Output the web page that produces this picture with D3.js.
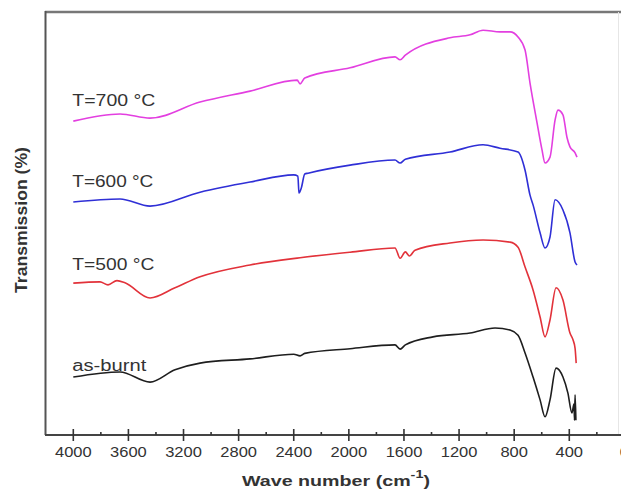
<!DOCTYPE html>
<html>
<head>
<meta charset="utf-8">
<script src="https://cdn.jsdelivr.net/npm/d3@7"></script>
<style>
  body { margin: 0; background: #fff; }
  text { font-family: Arial, "Liberation Sans", sans-serif; fill: #333; }
</style>
</head>
<body>
<div class="graph"></div>
<script>
// wave numbers (cm-1) and transmission (%, arbitrary offset)
var asBurntWave = [4000, 3661, 3443, 3262, 3080, 2717, 2400, 2354, 2320, 1991, 1665, 1628, 1590, 1389, 1120, 939, 830, 772, 721, 663, 612, 576, 540, 496, 446, 410, 381, 366, 362, 358, 352];
var asBurntT    = [13.7, 14.9, 12.5, 15.4, 17.0, 18.0, 19.1, 18.7, 19.3, 20.4, 21.3, 20.3, 21.3, 23.2, 24.1, 25.3, 24.8, 23.6, 19.4, 13.7, 8.3, 4.3, 8.3, 15.8, 13.7, 9.9, 5.2, 7.3, 3.5, 9.5, 3.5];

var t500Wave = [4000, 3806, 3748, 3683, 3625, 3443, 3262, 3080, 2717, 2354, 1991, 1665, 1628, 1590, 1560, 1520, 1266, 1026, 830, 772, 721, 663, 612, 576, 540, 496, 446, 395, 373, 358, 350];
var t500T    = [35.9, 36.2, 35.5, 36.5, 36.0, 32.4, 34.8, 37.4, 40.2, 41.9, 43.2, 44.2, 41.8, 43.3, 42.3, 43.7, 45.4, 46.1, 45.6, 44.4, 39.7, 34.3, 27.9, 23.2, 27.2, 34.8, 31.9, 24.1, 22.5, 20.5, 17.0];

var t600Wave = [4000, 3661, 3443, 3080, 2717, 2400, 2370, 2362, 2345, 2320, 2296, 1991, 1665, 1628, 1590, 1266, 1026, 903, 772, 721, 685, 663, 612, 576, 540, 503, 446, 395, 358, 344];
var t600T    = [55.1, 55.8, 54.1, 57.4, 59.8, 61.5, 61.2, 57.2, 58.4, 61.7, 61.9, 63.8, 65.0, 64.3, 65.2, 66.9, 68.6, 67.8, 66.9, 62.6, 56.7, 54.4, 47.8, 44.2, 46.8, 55.6, 53.2, 47.8, 40.9, 40.2];

var t700Wave = [4000, 3661, 3443, 3080, 2717, 2375, 2354, 2320, 1991, 1665, 1628, 1590, 1266, 1120, 1026, 903, 830, 772, 721, 685, 634, 598, 576, 540, 503, 482, 446, 417, 395, 358, 344];
var t700T    = [74.2, 75.9, 74.9, 78.7, 81.3, 83.9, 83.0, 84.4, 86.8, 89.4, 88.7, 89.8, 93.9, 94.6, 95.7, 95.3, 95.3, 94.1, 91.0, 83.2, 73.8, 67.4, 64.3, 65.7, 74.5, 76.8, 75.7, 70.4, 68.1, 66.7, 65.7];

var seriesNames  = ["as-burnt", "T=500 \u00b0C", "T=600 \u00b0C", "T=700 \u00b0C"];
var seriesWaves  = [asBurntWave, t500Wave, t600Wave, t700Wave];
var seriesValues = [asBurntT, t500T, t600T, t700T];
var seriesColors = ["#1e1e1e", "#e2323a", "#2f2fd6", "#e33fe0"];
// label anchors as (wave number, transmission) + drawn width
var labelWave  = [4000, 4000, 4000, 4000];
var labelT     = [15.2, 39.0, 58.6, 77.8];
var labelWidth = [74, 82, 81, 83];

var majorTicks = [4000, 3600, 3200, 2800, 2400, 2000, 1600, 1200, 800, 400, 0];
var minorTicks = [3800, 3400, 3000, 2600, 2200, 1800, 1400, 1000, 600, 200];

var width = 621;
var height = 493;

var svg = d3.select(".graph").append("svg")
  .attr("width", width)
  .attr("height", height);

var x = d3.scaleLinear()
  .domain([4000, 0])
  .range([73.3, 624.4]);

var y = d3.scaleLinear()
  .domain([0, 100])
  .range([435, 12]);

// frame
svg.append("line")
  .attr("x1", 45).attr("x2", width)
  .attr("y1", 12).attr("y2", 12)
  .attr("stroke", "#777").attr("stroke-width", 2.5);
svg.append("line")
  .attr("x1", 45.5).attr("x2", 45.5)
  .attr("y1", 11).attr("y2", 435)
  .attr("stroke", "#555").attr("stroke-width", 2);
svg.append("line")
  .attr("x1", 618.5).attr("x2", 618.5)
  .attr("y1", 12).attr("y2", 435)
  .attr("stroke", "#e6e6e6").attr("stroke-width", 1);

// x axis
var xAxis = d3.axisBottom(x)
  .tickValues(majorTicks)
  .tickSize(0)
  .tickPadding(0)
  .tickFormat("");

var xAxisGroup = svg.append("g")
  .attr("transform", "translate(0,435)")
  .call(xAxis);
xAxisGroup.select(".domain")
  .attr("d", "M45,0H" + width)
  .attr("stroke", "#444")
  .attr("stroke-width", 2);

xAxisGroup.selectAll(".major")
  .data(majorTicks)
  .enter().append("line")
  .attr("x1", d => x(d)).attr("x2", d => x(d))
  .attr("y1", -6).attr("y2", 6)
  .attr("stroke", "#333").attr("stroke-width", 1.6);

xAxisGroup.selectAll(".minor")
  .data(minorTicks)
  .enter().append("line")
  .attr("x1", d => x(d)).attr("x2", d => x(d))
  .attr("y1", -3).attr("y2", 0)
  .attr("stroke", "#333").attr("stroke-width", 1.6);

xAxisGroup.selectAll(".lab")
  .data(majorTicks)
  .enter().append("text")
  .attr("transform", d => "translate(" + x(d) + ",22) scale(1.1,1)")
  .attr("text-anchor", "middle")
  .style("font-size", "15px")
  .text(d => d);

// curves
var line = d3.line()
  .x(d => x(d[0]))
  .y(d => y(d[1]))
  .curve(d3.curveMonotoneX);

seriesWaves.forEach(function (waves, i) {
  var pts = waves.map((w, j) => [w, seriesValues[i][j]])
    .sort((a, b) => a[0] - b[0]);
  svg.append("path")
    .datum(pts)
    .attr("fill", "none")
    .attr("stroke", seriesColors[i])
    .attr("stroke-width", 1.6)
    .attr("stroke-linejoin", "round")
    .attr("d", line);

  svg.append("text")
    .attr("x", x(labelWave[i]) - 1)
    .attr("y", y(labelT[i]))
    .attr("textLength", labelWidth[i])
    .attr("lengthAdjust", "spacingAndGlyphs")
    .style("font-size", "16px")
    .text(seriesNames[i]);
});

// axis titles
var xTitle = svg.append("text")
  .attr("x", 242)
  .attr("y", 486)
  .attr("textLength", 188)
  .attr("lengthAdjust", "spacingAndGlyphs")
  .style("font-size", "15px")
  .style("font-weight", "bold");
xTitle.append("tspan").text("Wave number (cm");
xTitle.append("tspan").attr("dy", -8).style("font-size", "11px").text("-1");
xTitle.append("tspan").attr("dy", 8).text(")");

svg.append("text")
  .attr("transform", "translate(27,220) rotate(-90)")
  .attr("text-anchor", "middle")
  .attr("textLength", 146)
  .attr("lengthAdjust", "spacingAndGlyphs")
  .style("font-size", "16px")
  .style("font-weight", "bold")
  .text("Transmission (%)");
</script>
</body>
</html>
